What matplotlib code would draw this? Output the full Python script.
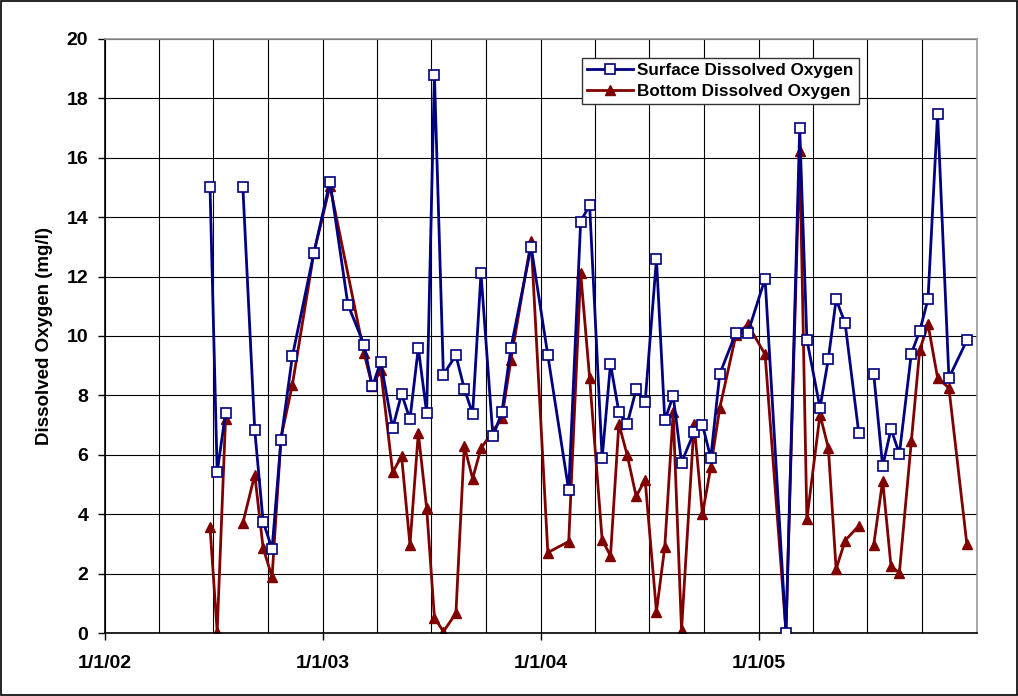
import matplotlib
matplotlib.use("Agg")
import matplotlib.pyplot as plt
import matplotlib.dates as mdates
import numpy as np
import pandas as pd

plt.rcParams['font.family'] = ['Liberation Sans', 'DejaVu Sans']

# sampling dates (NaN rows mark breaks in the lines)
surface_dates = [
    "2002-06-26", "2002-07-08", "2002-07-22", "2002-08-06", "2002-08-20", "2002-09-09",
    "2002-09-23", "2002-10-08", "2002-10-23", "2002-11-11", "2002-12-17", "2003-01-13",
    "2003-02-12", "2003-03-11", "2003-03-25", "2003-04-08", "2003-04-28", "2003-05-13",
    "2003-05-27", "2003-06-10", "2003-06-24", "2003-07-07", "2003-07-22", "2003-08-12",
    "2003-08-26", "2003-09-09", "2003-09-23", "2003-10-13", "2003-10-28", "2003-11-12",
    "2003-12-16", "2004-01-13", "2004-02-17", "2004-03-08", "2004-03-23", "2004-04-13",
    "2004-04-27", "2004-05-11", "2004-05-25", "2004-06-09", "2004-06-24", "2004-07-13",
    "2004-07-27", "2004-08-10", "2004-08-24", "2004-09-14", "2004-09-28", "2004-10-12",
    "2004-10-27", "2004-11-23", "2004-12-13", "2005-01-11", "2005-02-15", "2005-03-10",
    "2005-03-22", "2005-04-13", "2005-04-27", "2005-05-10", "2005-05-25", "2005-06-17",
    "2005-06-30", "2005-07-12", "2005-07-27", "2005-08-10", "2005-08-24", "2005-09-13",
    "2005-09-27", "2005-10-11", "2005-10-27", "2005-11-15", "2005-12-15",
]
surface_do = [
    15.03, 5.41, 7.41, np.nan, 15.03, 6.82,
    3.75, 2.83, 6.51, 9.32, 12.8, 15.2,
    11.06, 9.71, 8.3, 9.13, 6.9, 8.05,
    7.2, 9.6, 7.41, 18.8, 8.7, 9.35,
    8.23, 7.38, 12.11, 6.62, 7.43, 9.58,
    13.01, 9.35, 4.8, 13.85, 14.41, 5.89,
    9.06, 7.44, 7.04, 8.2, 7.77, 12.6,
    7.16, 7.99, 5.74, 6.76, 7.02, 5.89,
    8.72, 10.1, 10.1, 11.93, 0.0, 17.0,
    9.88, 7.58, 9.23, 11.23, 10.44, 6.73,
    np.nan, 8.72, 5.61, 6.87, 6.03, 9.41,
    10.16, 11.25, 17.49, 8.59, 9.85,
]

bottom_dates = [
    "2002-06-26", "2002-07-08", "2002-07-22", "2002-08-06", "2002-08-20", "2002-09-09",
    "2002-09-23", "2002-10-08", "2002-10-23", "2002-11-11", "2002-12-17", "2003-01-13",
    "2003-03-11", "2003-03-25", "2003-04-08", "2003-04-28", "2003-05-13",
    "2003-05-27", "2003-06-10", "2003-06-24", "2003-07-07", "2003-07-22", "2003-08-12",
    "2003-08-26", "2003-09-09", "2003-09-23", "2003-10-13", "2003-10-28", "2003-11-12",
    "2003-12-16", "2004-01-13", "2004-02-17", "2004-03-08", "2004-03-23", "2004-04-13",
    "2004-04-27", "2004-05-11", "2004-05-25", "2004-06-09", "2004-06-24", "2004-07-13",
    "2004-07-27", "2004-08-10", "2004-08-24", "2004-09-14", "2004-09-28", "2004-10-12",
    "2004-10-27", "2004-11-23", "2004-12-13", "2005-01-11", "2005-02-15", "2005-03-10",
    "2005-03-22", "2005-04-13", "2005-04-27", "2005-05-10", "2005-05-25", "2005-06-17",
    "2005-06-30", "2005-07-12", "2005-07-27", "2005-08-10", "2005-08-24", "2005-09-13",
    "2005-09-27", "2005-10-11", "2005-10-27", "2005-11-15", "2005-12-15",
]
bottom_do = [
    3.57, 0.05, 7.2, np.nan, 3.7, 5.33,
    2.86, 1.89, 6.58, 8.36, 12.8, 15.05,
    9.43, 8.3, 8.87, 5.41, 5.95,
    2.97, 6.73, 4.2, 0.52, 0.05, 0.66,
    6.3, 5.2, 6.22, 6.79, 7.24, 9.18,
    13.2, 2.71, 3.08, 12.13, 8.59, 3.14,
    2.6, 7.04, 5.99, 4.6, 5.16, 0.72,
    2.91, 7.43, 0.1, 7.04, 4.0, 5.58,
    7.57, 10.02, 10.39, 9.38, 0.05, 16.23,
    3.83, 7.35, 6.23, 2.15, 3.11, 3.61,
    np.nan, 2.97, 5.13, 2.24, 2.03, 6.45,
    9.52, 10.39, 8.59, 8.25, 3.0,
]

y_ticks = list(range(0, 21, 2))
year_ticks = ["2002-01-01", "2003-01-01", "2004-01-01", "2005-01-01"]
year_labels = ["1/1/02", "1/1/03", "1/1/04", "1/1/05"]

navy = "#000080"
maroon = "#800000"

fig = plt.figure(figsize=(10.18, 6.96), dpi=100)
ax = fig.add_axes([0.1031, 0.0905, 0.8566, 0.8535])

ax.plot(pd.to_datetime(surface_dates), surface_do, color=navy, lw=2.0,
        marker='s', ms=6.5, mfc='white', mec=navy, mew=1.2,
        label='Surface Dissolved Oxygen', zorder=3)
ax.plot(pd.to_datetime(bottom_dates), bottom_do, color=maroon, lw=2.0,
        marker='^', ms=7.5, mfc=maroon, mec=maroon,
        label='Bottom Dissolved Oxygen', zorder=2)

ax.set_xlim(pd.Timestamp("2002-01-01"), pd.Timestamp("2006-01-01"))
ax.set_ylim(0, 20)
ax.set_yticks(y_ticks)
ax.set_xticks(pd.to_datetime(year_ticks))
ax.set_xticklabels(year_labels)
ax.xaxis.set_minor_locator(mdates.MonthLocator(bymonth=[1, 4, 7, 10]))

ax.grid(True, which='major', color='black', lw=0.8)
ax.grid(True, which='minor', axis='x', color='black', lw=0.8)
ax.set_axisbelow(True)

ax.tick_params(axis='both', which='major', direction='out', length=5,
               width=1, labelsize=14)
ax.tick_params(axis='y', which='major', pad=7)
ax.tick_params(axis='x', which='major', pad=11)
ax.tick_params(axis='x', which='minor', length=0)
for lab in ax.get_xticklabels() + ax.get_yticklabels():
    lab.set_fontweight('bold')

ax.spines['top'].set_color('#999999')
ax.spines['right'].set_color('#999999')
ax.spines['left'].set_color('black')
ax.spines['bottom'].set_color('black')
for s in ax.spines.values():
    s.set_linewidth(1.2)

ax.set_ylabel('Dissolved Oxygen (mg/l)', fontsize=13.5, fontweight='bold')
ax.yaxis.set_label_coords(-0.06, 0.5)

leg = ax.legend(loc='upper left', bbox_to_anchor=(0.547, 0.968), borderaxespad=0,
                fancybox=False, framealpha=1, edgecolor='#333333', borderpad=0.3,
                labelspacing=0.35, handlelength=2.7, handletextpad=0.25,
                prop={'weight': 'bold', 'size': 12.3})
leg.get_frame().set_linewidth(1.0)

# outer frame around the whole chart
fig.patches.append(plt.Rectangle((0.001, 0.001), 0.998, 0.998, transform=fig.transFigure,
                                 fill=False, edgecolor='black', lw=1.2))

fig.savefig("out.png", dpi=100)
